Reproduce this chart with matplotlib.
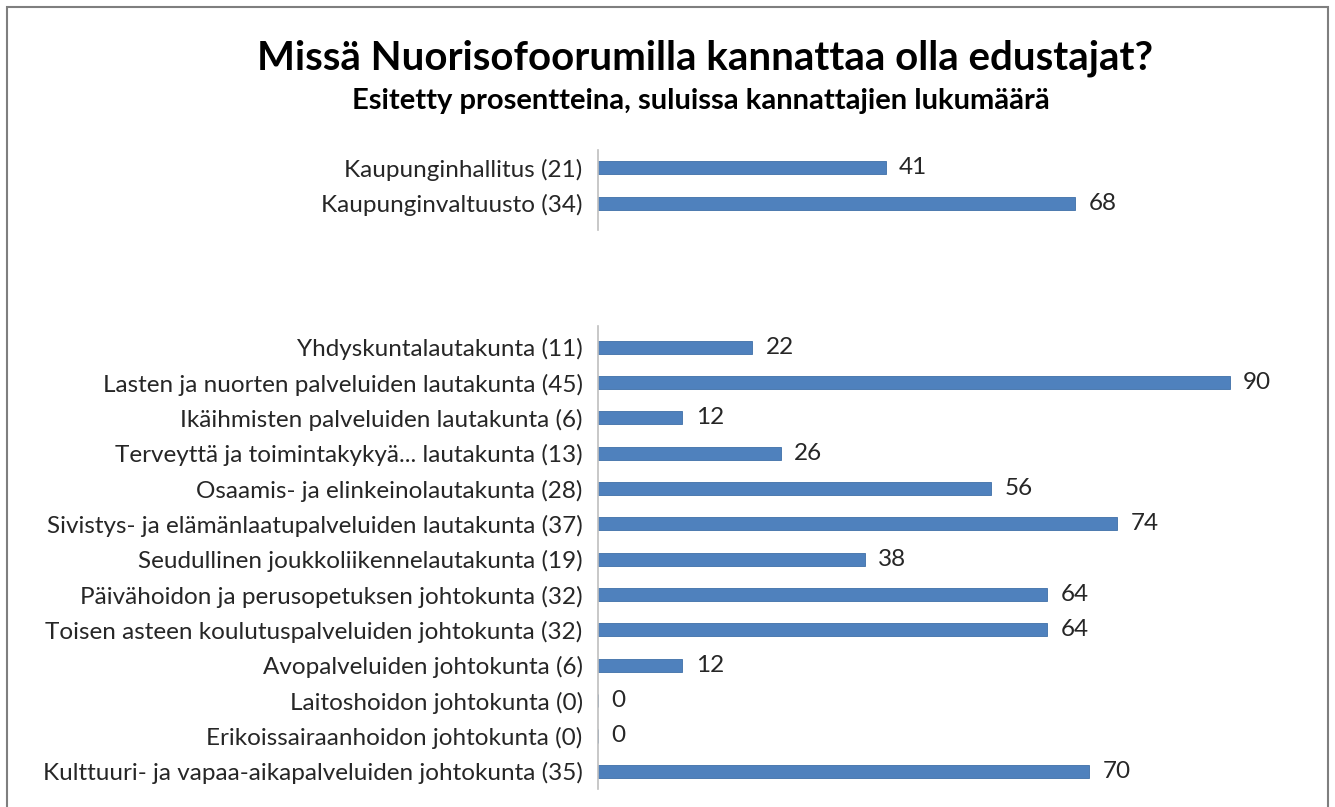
import matplotlib.pyplot as plt
from matplotlib.patches import Rectangle

plt.rcParams['font.family'] = ['Lato', 'DejaVu Sans']

top_labels = ['Kaupunginhallitus (21)', 'Kaupunginvaltuusto (34)']
top_values = [41, 68]

bottom_labels = [
    'Yhdyskuntalautakunta (11)',
    'Lasten ja nuorten palveluiden lautakunta (45)',
    'Ikäihmisten palveluiden lautakunta (6)',
    'Terveyttä ja toimintakykyä... lautakunta (13)',
    'Osaamis- ja elinkeinolautakunta (28)',
    'Sivistys- ja elämänlaatupalveluiden lautakunta (37)',
    'Seudullinen joukkoliikennelautakunta (19)',
    'Päivähoidon ja perusopetuksen johtokunta (32)',
    'Toisen asteen koulutuspalveluiden johtokunta (32)',
    'Avopalveluiden johtokunta (6)',
    'Laitoshoidon johtokunta (0)',
    'Erikoissairaanhoidon johtokunta (0)',
    'Kulttuuri- ja vapaa-aikapalveluiden johtokunta (35)',
]
bottom_values = [22, 90, 12, 26, 56, 74, 38, 64, 64, 12, 0, 0, 70]

W, H = 1335, 807
fig = plt.figure(figsize=(W / 100, H / 100), dpi=100)

bar_color = '#4F81BD'
text_color = '#262626'


def px_axes(x0, y0, x1, y1):
    return fig.add_axes([x0 / W, 1 - y1 / H, (x1 - x0) / W, (y1 - y0) / H])


def draw_group(ax, labels, values, ylim):
    y = list(range(len(labels)))
    ax.barh(y, values, height=0.37, color=bar_color, edgecolor='#3F6FA8', linewidth=0.6)
    ax.set_ylim(*ylim)
    ax.set_xlim(0, 100)
    ax.set_yticks(y)
    ax.set_yticklabels(labels, fontsize=17.5, color=text_color)
    ax.tick_params(axis='y', length=0, pad=11)
    ax.set_xticks([])
    for s in ['top', 'right', 'bottom']:
        ax.spines[s].set_visible(False)
    ax.spines['left'].set_color('#BFBFBF')
    ax.spines['left'].set_linewidth(1.2)
    for yi, v in zip(y, values):
        ax.text(v + 1.9, yi, str(v), va='center', ha='left', fontsize=17.5, color=text_color)


ax1 = px_axes(598, 150, 1300, 230)
draw_group(ax1, top_labels, top_values, (1.75, -0.5))

ax2 = px_axes(598, 326, 1300, 789)
draw_group(ax2, bottom_labels, bottom_values, (12.5, -0.6))

fig.text(705 / W, 1 - 58 / H, 'Missä Nuorisofoorumilla kannattaa olla edustajat?',
         ha='center', va='center', fontsize=29, fontweight='bold', color='black')
fig.text(701 / W, 1 - 101 / H, 'Esitetty prosentteina, suluissa kannattajien lukumäärä',
         ha='center', va='center', fontsize=21, fontweight='bold', color='black')

fig.patches.append(Rectangle((7 / W, -0.01), 1321 / W, 1 - 7 / H + 0.01,
                             transform=fig.transFigure, fill=False,
                             edgecolor='#7F7F7F', linewidth=1.5))

fig.savefig('out.png', dpi=100)
